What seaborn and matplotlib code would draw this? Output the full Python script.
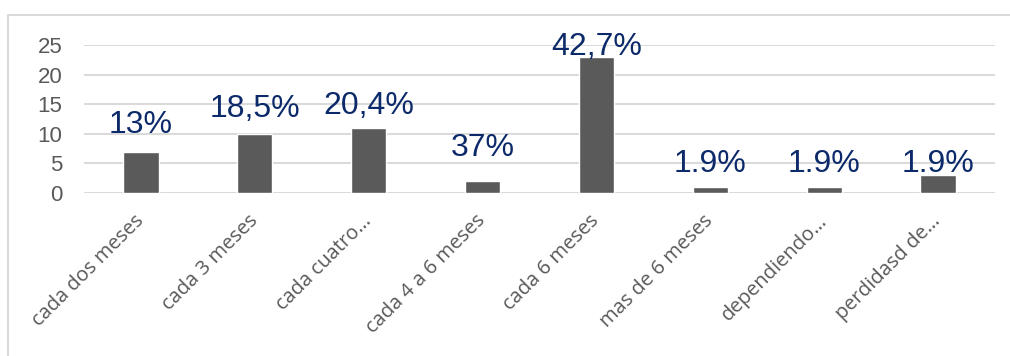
import matplotlib
matplotlib.use("Agg")
import matplotlib.pyplot as plt
from matplotlib.lines import Line2D
import seaborn as sns
import pandas as pd

# Data
categories = ["cada dos meses", "cada 3 meses", "cada cuatro…", "cada 4 a 6 meses",
              "cada 6 meses", "mas de 6 meses", "dependiendo…", "perdidasd de…"]
counts = [7, 10, 11, 2, 23, 1, 1, 3]
pct_labels = ["13%", "18,5%", "20,4%", "37%", "42,7%", "1.9%", "1.9%", "1.9%"]
y_ticks = [0, 5, 10, 15, 20, 25]

# Per-label lift above the bar top, in pixels
label_lift_px = [19, 17, 14, 25, 2, 15, 15, 3]

sns.set_theme(style="white")
plt.rcParams["font.family"] = ["Liberation Sans", "DejaVu Sans"]

df = pd.DataFrame({"categoria": categories, "n": counts})

fig = plt.figure(figsize=(10.1, 3.56), dpi=100)
ax = fig.add_axes([84 / 1010, 1 - 193 / 356, (995 - 84) / 1010, (193 - 45) / 356])

sns.barplot(data=df, x="categoria", y="n", color="#5a5a5a", width=0.31,
            saturation=1, ax=ax, zorder=3)

ax.set_ylim(0, 25)
ax.set_xlim(-0.5, len(categories) - 0.5)
ax.set_yticks(y_ticks)
ax.set_xlabel("")
ax.set_ylabel("")
ax.grid(axis="y", color="#d9d9d9", linewidth=1.4, zorder=0)
ax.grid(axis="x", visible=False)
for s in ax.spines.values():
    s.set_visible(False)

ax.tick_params(axis="y", length=0, pad=15.5, labelsize=16, labelcolor="#595959")
ax.tick_params(axis="x", length=0, pad=18)
ax.set_xticks(range(len(categories)))
ax.set_xticklabels(categories, rotation=45, ha="right", va="center",
                   rotation_mode="anchor", fontsize=14.5, color="#595959",
                   family=["Open Sans", "DejaVu Sans"])
for lbl in ax.get_yticklabels():
    lbl.set_family(["Liberation Sans", "DejaVu Sans"])

# Percentage labels above the bars
for i, (v, txt, lift) in enumerate(zip(counts, pct_labels, label_lift_px)):
    ax.annotate(txt, xy=(i, v), xytext=(0, lift * 0.72), textcoords="offset points",
                ha="center", va="baseline", fontsize=23, color="#0c2a6a",
                family=["Liberation Sans", "DejaVu Sans"], zorder=4)

# Chart frame (left and top edges)
fig.add_artist(Line2D([8 / 1010, 8 / 1010], [0, 1 - 15 / 356],
                      transform=fig.transFigure, color="#d9d9d9", linewidth=1.4))
fig.add_artist(Line2D([8 / 1010, 1], [1 - 15 / 356, 1 - 15 / 356],
                      transform=fig.transFigure, color="#d9d9d9", linewidth=1.4))

fig.savefig("out.png", dpi=100, facecolor="white")
